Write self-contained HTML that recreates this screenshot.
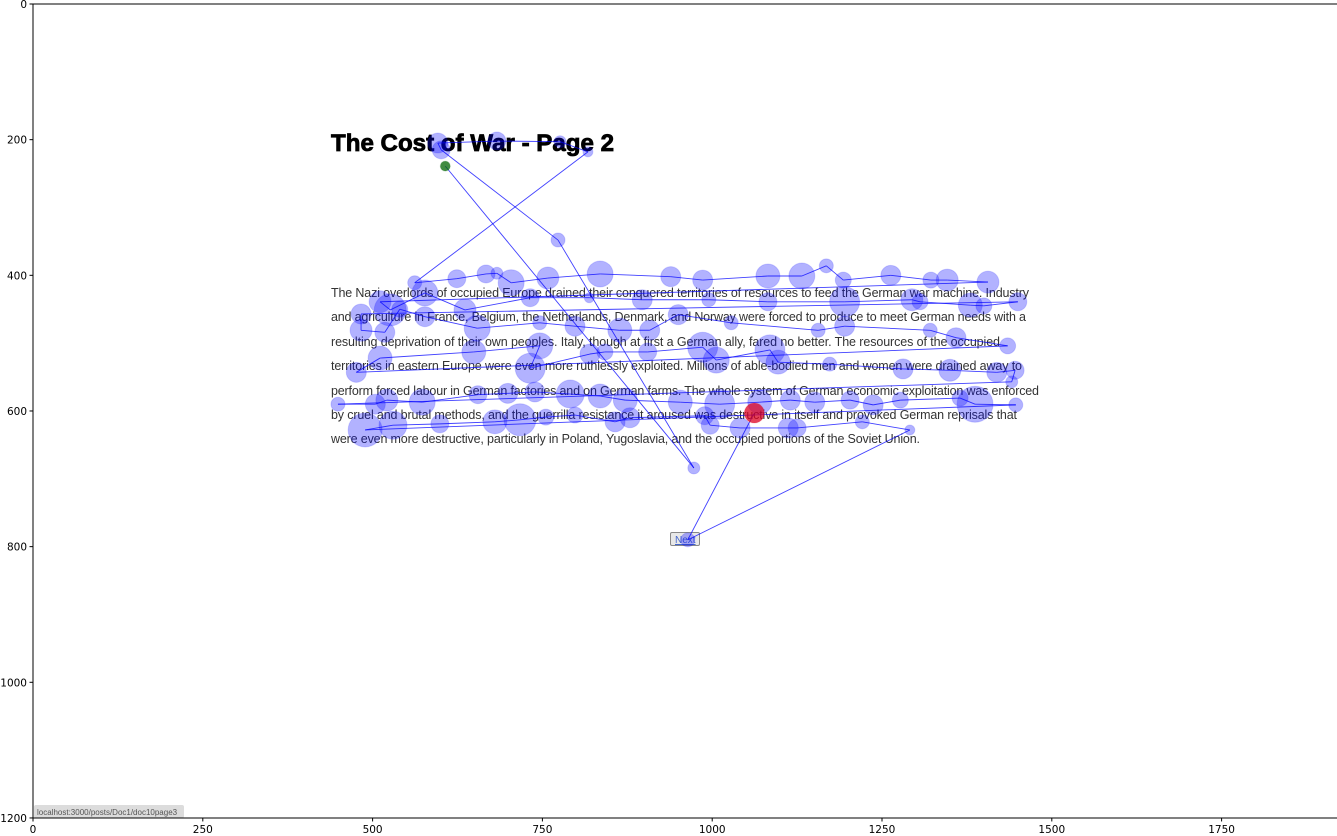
<!DOCTYPE html>
<html><head><meta charset="utf-8"><style>
html,body{margin:0;padding:0;background:#fff;}
svg{display:block;font-family:"DejaVu Sans","Liberation Sans",sans-serif;}
</style></head><body>
<svg id="chart" width="1337" height="836" viewBox="0 0 1337 836" xmlns="http://www.w3.org/2000/svg">
<g id="page">
<text x="331" y="151" font-family="'Liberation Sans',sans-serif" font-weight="bold" font-size="24" fill="#000" stroke="#000" stroke-width="0.8" textLength="283" lengthAdjust="spacingAndGlyphs">The Cost of War - Page 2</text>
<g font-family="'Liberation Sans',sans-serif" font-size="12.5" fill="#333">
<text x="331" y="297" textLength="698">The Nazi overlords of occupied Europe drained their conquered territories of resources to feed the German war machine. Industry</text>
<text x="331" y="321" textLength="695">and agriculture in France, Belgium, the Netherlands, Denmark, and Norway were forced to produce to meet German needs with a</text>
<text x="331" y="346" textLength="669">resulting deprivation of their own peoples. Italy, though at first a German ally, fared no better. The resources of the occupied</text>
<text x="331" y="370" textLength="691">territories in eastern Europe were even more ruthlessly exploited. Millions of able-bodied men and women were drained away to</text>
<text x="331" y="395" textLength="708">perform forced labour in German factories and on German farms. The whole system of German economic exploitation was enforced</text>
<text x="331" y="419" textLength="686">by cruel and brutal methods, and the guerrilla resistance it aroused was destructive in itself and provoked German reprisals that</text>
<text x="331" y="443" textLength="589">were even more destructive, particularly in Poland, Yugoslavia, and the occupied portions of the Soviet Union.</text>
</g>
<g>
<rect x="670.5" y="532.5" width="29" height="13" rx="1.5" fill="#e8e8e8" stroke="#888" stroke-width="1"/>
<text x="675" y="543" font-family="'Liberation Sans',sans-serif" font-size="10" fill="#4466cc" text-decoration="underline">Next</text>
</g>
<g>
<rect x="34" y="805" width="150" height="13" rx="2" fill="#dcdcdc"/>
<text x="37" y="815" font-family="'Liberation Sans',sans-serif" font-size="8" fill="#555">localhost:3000/posts/Doc1/doc10page3</text>
</g>
</g>
<g id="marks"></g>
<g id="axes"></g>
</svg>
<script>
// fixation data: x (screen px), y (screen px), duration (ms) in reading order
const fixX = [607,973,773,601,596,683,776,817,
562,624,667,683,704,758,835,939,986,1082,1132,1168,1193,1263,1322,1346,1406,
511,526,577,636,732,819,897,995,1082,1195,1294,1306,1380,1400,1450,
483,483,518,540,577,654,746,798,864,908,950,1028,1156,1195,1321,1359,1435,
476,511,649,746,732,820,842,905,986,1006,1085,1097,1173,1281,1350,1419,1446,1441,
449,504,521,573,655,699,739,791,835,872,953,1011,1070,1115,1151,1203,1237,1277,1365,1387,1447,
489,530,599,680,717,755,798,857,879,989,997,1041,1112,1125,1221,1291,
964,1062];
const fixY = [239,684,348,215,205,202,203,218,
411,405,398,397,411,404,398,402,407,401,401,386,407,400,407,407,410,
439,451,426,451,433,433,436,436,439,439,436,439,444,445,439,
457,481,484,450,461,478,470,475,481,481,458,470,481,475,481,492,504,
543,522,513,504,537,516,513,513,506,525,510,528,531,538,540,543,540,557,
590,590,584,587,576,574,572,575,578,584,587,590,587,584,587,584,591,584,581,590,591,
628,621,619,616,613,609,606,616,610,607,621,625,625,625,616,628,
790,603];
const fixDur = [2500,3600,4900,8100,10000,8100,3600,2500,
4900,8100,8100,3600,16900,12100,16900,10000,10000,14400,16900,4900,6400,10000,6400,12100,12100,
12100,25600,16900,12100,8100,2500,10000,4900,8100,22500,12100,6400,14400,6400,8100,
10000,12100,10000,6400,10000,16900,4900,10000,14400,10000,10000,4900,4900,10000,4900,10000,6400,
10000,14400,14400,16900,22500,10000,6400,8100,22500,16900,22500,14400,4900,10000,12100,10000,8100,3600,
4900,10000,12100,16900,8100,10000,10000,19600,14400,14400,14400,22500,14400,10000,10000,8100,10000,6400,6400,32400,4900,
28900,19600,8100,14400,25600,6400,6400,10000,10000,8100,8100,10000,10000,8100,4900,2500,
4900,10000];
const xTicks = [0,250,500,750,1000,1250,1500,1750];
const yTicks = [0,200,400,600,800,1000,1200];

const X0=33, Y0=4, KX=0.6792, KY=0.6783;
const xs = d => X0 + d*KX;
const ys = d => Y0 + d*KY;
const NS="http://www.w3.org/2000/svg";
const marks=document.getElementById('marks');
const axes=document.getElementById('axes');
const n=fixX.length;
for(let i=0;i<n-1;i++){
  const l=document.createElementNS(NS,'line');
  l.setAttribute('x1',xs(fixX[i]));l.setAttribute('y1',ys(fixY[i]));
  l.setAttribute('x2',xs(fixX[i+1]));l.setAttribute('y2',ys(fixY[i+1]));
  l.setAttribute('stroke','#0000ff');l.setAttribute('stroke-opacity','0.75');l.setAttribute('stroke-width','0.9');
  
  
  marks.appendChild(l);
}
for(let i=0;i<n;i++){
  const c=document.createElementNS(NS,'circle');
  c.setAttribute('cx',xs(fixX[i]));c.setAttribute('cy',ys(fixY[i]));
  c.setAttribute('r',Math.sqrt(fixDur[i])*0.1);
  let fill='#0000ff', op='0.3';
  if(i===0){fill='#006400';op='0.75';}
  if(i===n-1){fill='#dc0020';op='0.75';}
  c.setAttribute('fill',fill);c.setAttribute('fill-opacity',op);
  c.setAttribute('stroke',fill);c.setAttribute('stroke-opacity','0.15');
  
  
  marks.appendChild(c);
}
const fr=document.createElementNS(NS,'rect');
fr.setAttribute('x',33);fr.setAttribute('y',4);fr.setAttribute('width',1310);fr.setAttribute('height',814);
fr.setAttribute('fill','none');fr.setAttribute('stroke','#000');fr.setAttribute('stroke-width','1');


axes.appendChild(fr);
const ybot=ys(1200);
xTicks.forEach(t=>{
  const x=xs(t);
  const tk=document.createElementNS(NS,'line');
  tk.setAttribute('x1',x);tk.setAttribute('x2',x);tk.setAttribute('y1',ybot);tk.setAttribute('y2',ybot+3.5);
  tk.setAttribute('stroke','#000');
  
  
  axes.appendChild(tk);
  const tx=document.createElementNS(NS,'text');
  tx.setAttribute('x',x);tx.setAttribute('y',ybot+15);tx.setAttribute('text-anchor','middle');
  tx.setAttribute('font-size','10.5');tx.textContent=t;
  
  
  axes.appendChild(tx);
});
yTicks.forEach(t=>{
  const y=ys(t);
  const tk=document.createElementNS(NS,'line');
  tk.setAttribute('x1',29.5);tk.setAttribute('x2',33);tk.setAttribute('y1',y);tk.setAttribute('y2',y);
  tk.setAttribute('stroke','#000');
  
  
  axes.appendChild(tk);
  const tx=document.createElementNS(NS,'text');
  tx.setAttribute('x',27);tx.setAttribute('y',y+4);tx.setAttribute('text-anchor','end');
  tx.setAttribute('font-size','10.5');tx.textContent=t;
  
  
  axes.appendChild(tx);
});
</script>
</body></html>
